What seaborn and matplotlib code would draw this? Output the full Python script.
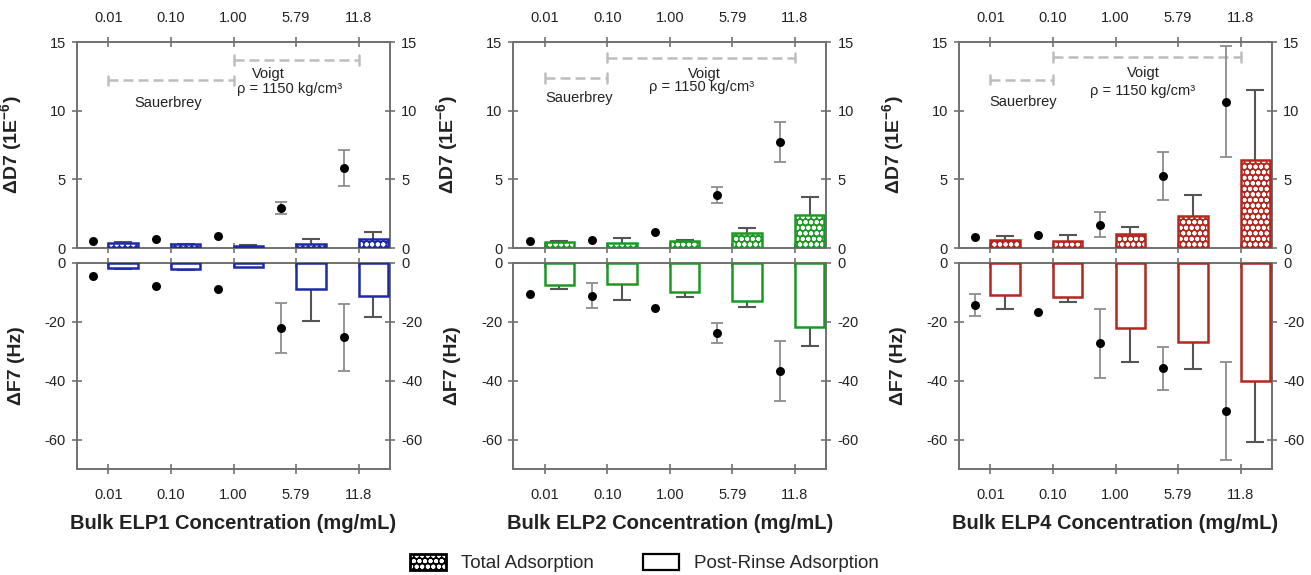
import numpy as np
import pandas as pd
import matplotlib
matplotlib.use("Agg")
import matplotlib.pyplot as plt
import seaborn as sns
from matplotlib.patches import Patch

# ---------------- data ----------------
conc_labels = ["0.01", "0.10", "1.00", "5.79", "11.8"]
elp_names = ["ELP1", "ELP2", "ELP4"]
bar_colors = ["#1c2aa8", "#1a9a24", "#b5261f"]

# Delta D7 (1E-6): black points (mean, sd)
d7_point_mean = [[0.50, 0.66, 0.87, 2.89, 5.85],
                 [0.53, 0.58, 1.19, 3.87, 7.71],
                 [0.78, 0.97, 1.69, 5.25, 10.65]]
d7_point_sd = [[0.0, 0.0, 0.0, 0.45, 1.30],
               [0.0, 0.0, 0.0, 0.57, 1.47],
               [0.0, 0.0, 0.90, 1.75, 4.05]]
# Delta D7 hatched bars (mean, sd)
d7_bar_mean = [[0.34, 0.27, 0.17, 0.27, 0.65],
               [0.41, 0.34, 0.53, 1.07, 2.41],
               [0.60, 0.49, 1.02, 2.35, 6.41]]
d7_bar_sd = [[0.08, 0.04, 0.08, 0.38, 0.49],
             [0.12, 0.36, 0.03, 0.41, 1.29],
             [0.25, 0.48, 0.50, 1.52, 5.13]]

# Delta F7 (Hz): black points (mean, sd)
f7_point_mean = [[-4.5, -7.8, -9.0, -22.2, -25.3],
                 [-10.6, -11.2, -15.5, -23.9, -36.8],
                 [-14.3, -16.7, -27.4, -35.8, -50.3]]
f7_point_sd = [[0.0, 0.0, 0.0, 8.5, 11.4],
               [0.0, 4.3, 0.0, 3.3, 10.2],
               [3.8, 0.0, 11.8, 7.3, 16.5]]
# Delta F7 open bars (mean, sd)
f7_bar_mean = [[-1.9, -2.2, -1.35, -8.9, -11.2],
               [-7.5, -7.2, -10.0, -13.1, -21.9],
               [-11.0, -11.7, -22.3, -26.8, -40.2]]
f7_bar_sd = [[0.4, 0.4, 0.25, 10.9, 7.1],
             [1.4, 5.3, 1.7, 1.8, 6.3],
             [4.7, 1.6, 11.3, 9.3, 20.6]]

# model-region brackets (start index, end index, level) and labels
sauer_range = [(0, 2, 12.2), (0, 1, 12.4), (0, 1, 12.26)]
voigt_range = [(2, 4, 13.7), (1, 4, 13.86), (1, 4, 13.9)]
sauer_text_xy = [(0.95, 10.56), (0.55, 10.95), (0.53, 10.65)]
voigt_text_xy = [(2.55, 12.7), (2.56, 12.67), (2.45, 12.77)]
rho_text_xy = [(2.9, 11.6), (2.5, 11.7), (2.43, 11.4)]

# ---------------- style ----------------
sns.set_theme(style="ticks")
plt.rcParams['font.family'] = ['Liberation Sans', 'DejaVu Sans']
plt.rcParams['mathtext.fontset'] = 'custom'
plt.rcParams['mathtext.rm'] = 'Liberation Sans'
plt.rcParams['mathtext.bf'] = 'Liberation Sans:bold'
plt.rcParams['hatch.linewidth'] = 1.3
plt.rcParams['axes.unicode_minus'] = False

FW, FH = 1311, 575
fig = plt.figure(figsize=(FW / 100, FH / 100), dpi=100)

lefts = [77, 513.3, 959]
AW = 313
SPINE = '#707070'
TICKC = '#666666'
TXT = '#222222'

pt_off = -0.24
bar_off = 0.235
bar_w = 0.47


def style_axes(ax, top):
    for s in ax.spines.values():
        s.set_color(SPINE)
        s.set_linewidth(1.4)
    ax.set_xlim(-0.5, 4.5)
    ax.set_xticks(range(5))
    ax.set_xticklabels(conc_labels)
    ax.tick_params(axis='x', which='major', direction='inout', length=7, width=1.1,
                   color=TICKC, top=True, bottom=True, labeltop=top,
                   labelbottom=not top, pad=9.0 if top else 10.5, labelsize=10.5,
                   labelcolor=TXT)
    ax.tick_params(axis='y', which='major', direction='inout', length=7, width=1.1,
                   color=TICKC, left=True, right=True, labelleft=True,
                   labelright=True, pad=4.5, labelsize=10.5, labelcolor=TXT)
    ax.grid(False)
    ax.set_facecolor('white')


def draw_bars(ax, xs, vals, color, hatched):
    n0 = len(ax.patches)
    sns.barplot(x=xs, y=vals, native_scale=True, orient='x', width=bar_w,
                color=color, errorbar=None, ax=ax, zorder=3)
    new = ax.patches[n0:]
    for p in new:
        if hatched:
            p.set_facecolor(color)
            p.set_edgecolor('white')
            p.set_hatch('ooo')
            p.set_linewidth(0)
        else:
            p.set_facecolor('white')
            p.set_edgecolor(color)
            p.set_linewidth(1.8)
    if hatched:
        for p in new:
            ax.add_patch(plt.Rectangle(p.get_xy(), p.get_width(), p.get_height(),
                                       fill=False, edgecolor=color, linewidth=1.8,
                                       zorder=3.5))


def bar_errors(ax, xs, vals, sds):
    for x, v, s in zip(xs, vals, sds):
        end = v + s if v >= 0 else v - s
        ax.plot([x, x], [v, end], color='#555555', lw=1.5, zorder=2.5,
                solid_capstyle='butt')
        ax.plot([x], [end], marker='_', ms=13, mew=1.5, color='#555555',
                ls='none', zorder=2.5)


def point_errors(ax, xs, vals, sds):
    sns.scatterplot(x=xs, y=vals, ax=ax, color='black', s=42, linewidth=0,
                    zorder=5, legend=False)
    for x, v, s in zip(xs, vals, sds):
        if s > 0:
            ax.errorbar([x], [v], yerr=[s], fmt='none', ecolor='#8c8c8c',
                        elinewidth=1.3, capsize=4.5, capthick=1.3, zorder=4)


for i in range(3):
    l = lefts[i] / FW
    ax_top = fig.add_axes([l, 1 - 248 / FH, AW / FW, 206 / FH])
    ax_bot = fig.add_axes([l, 1 - 469 / FH, AW / FW, 206.3 / FH])
    idx = np.arange(5)
    color = bar_colors[i]

    # top: Delta D7
    draw_bars(ax_top, idx + bar_off, d7_bar_mean[i], color, True)
    bar_errors(ax_top, idx + bar_off, d7_bar_mean[i], d7_bar_sd[i])
    point_errors(ax_top, idx + pt_off, d7_point_mean[i], d7_point_sd[i])
    style_axes(ax_top, True)
    ax_top.set_ylim(0, 15)
    ax_top.set_yticks([0, 5, 10, 15])
    ax_top.set_ylabel(r"ΔD7 (1E$^{\mathbf{-6}}$)", fontsize=14, fontweight='bold',
                      color=TXT)
    ax_top.yaxis.set_label_coords(-52 / AW, 0.5)
    ax_top.set_xlabel("")

    # brackets
    for (a, b, y) in [sauer_range[i], voigt_range[i]]:
        ax_top.plot([a, b], [y, y], color='#bdbdbd', lw=1.8, ls=(0, (4, 2)), zorder=1)
        for xe in (a, b):
            ax_top.plot([xe, xe], [y - 0.35, y + 0.35], color='#bdbdbd', lw=1.8, zorder=1)
    ax_top.text(*sauer_text_xy[i], "Sauerbrey", ha='center', va='center',
                fontsize=10.5, color=TXT)
    ax_top.text(*voigt_text_xy[i], "Voigt", ha='center', va='center',
                fontsize=10.5, color=TXT)
    ax_top.text(*rho_text_xy[i], "ρ = 1150 kg/cm³", ha='center', va='center',
                fontsize=10.5, color=TXT)

    # bottom: Delta F7
    draw_bars(ax_bot, idx + bar_off, f7_bar_mean[i], color, False)
    bar_errors(ax_bot, idx + bar_off, f7_bar_mean[i], f7_bar_sd[i])
    point_errors(ax_bot, idx + pt_off, f7_point_mean[i], f7_point_sd[i])
    style_axes(ax_bot, False)
    ax_bot.set_ylim(-70, 0)
    ax_bot.set_yticks([0, -20, -40, -60])
    ax_bot.set_ylabel("ΔF7 (Hz)", fontsize=14, fontweight='bold', color=TXT)
    ax_bot.yaxis.set_label_coords(-52 / AW, 0.5)
    ax_bot.set_xlabel(f"Bulk {elp_names[i]} Concentration (mg/mL)", fontsize=14.5,
                      fontweight='bold', color=TXT)
    ax_bot.xaxis.set_label_coords(0.5, -45 / 206.3)

# legend
h_total = (Patch(facecolor='black', edgecolor='white', hatch='ooo', linewidth=0),
           Patch(fill=False, edgecolor='black', linewidth=2.0))
h_post = Patch(facecolor='white', edgecolor='black', linewidth=1.6)
fig.legend(handles=[h_total, h_post], labels=["Total Adsorption", "Post-Rinse Adsorption"],
           loc='center', bbox_to_anchor=(0.4916, 0.021), ncol=2, frameon=False,
           fontsize=13.5, handlelength=1.9, handleheight=1.0, handletextpad=0.8,
           columnspacing=2.65)

fig.savefig("out.png", dpi=100, facecolor='white')
